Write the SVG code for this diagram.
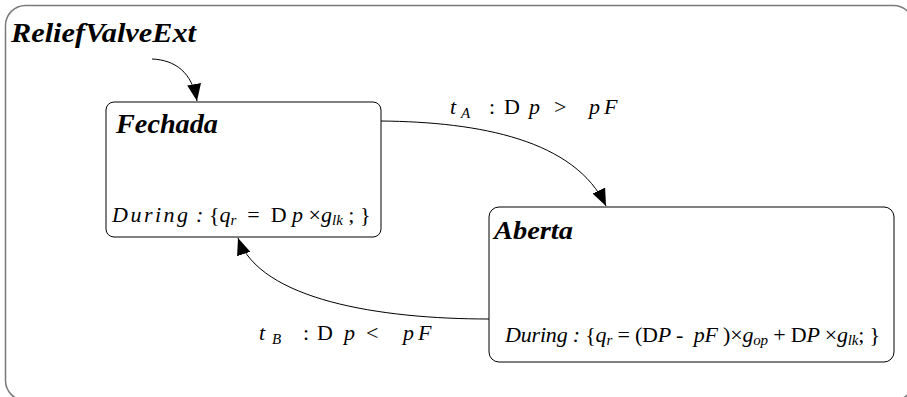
<svg xmlns="http://www.w3.org/2000/svg" width="907" height="397" viewBox="0 0 907 397">
<defs>
<marker id="arr" markerUnits="userSpaceOnUse" markerWidth="20" markerHeight="16" refX="17" refY="7" orient="auto">
<path d="M0,0 L17,7 L0,14 Z" fill="#000"/>
</marker>
<style>
.frame{fill:#fff;stroke:#7a7a7a;stroke-width:1.5}
.state{fill:#fff;stroke:#000;stroke-width:1}
.title{font-family:'Liberation Serif','Times New Roman',Times,serif;font-weight:bold;font-style:italic;fill:#000}
.math{font-family:'Liberation Serif','Times New Roman',Times,serif;font-style:italic;fill:#000;font-size:22px}
.up{font-style:normal}
.sub{font-size:15px}
.conn{fill:none;stroke:#000;stroke-width:1;marker-end:url(#arr)}
</style>
</defs>
<rect x="0" y="0" width="907" height="397" fill="#fff"/>
<g id="frame">
<rect class="frame" x="5.5" y="5.5" width="908" height="395" rx="20"/>
<text class="title" x="11" y="42" font-size="27" textLength="185" lengthAdjust="spacingAndGlyphs">ReliefValveExt</text>
</g>
<g id="fechada">
<rect class="state" x="106" y="102" width="275" height="135" rx="8"/>
<text class="title" x="116" y="133" font-size="27" textLength="102" lengthAdjust="spacingAndGlyphs">Fechada</text>
<text class="math" xml:space="preserve" x="112" y="222"><tspan letter-spacing="2.5">During</tspan> : <tspan class="up">{</tspan>q<tspan class="sub" dy="3">r</tspan><tspan class="up" dy="-3">  =  D </tspan>p <tspan class="up">×</tspan>g<tspan class="sub" dy="3">lk</tspan><tspan class="up" dy="-3"> ; }</tspan></text>
</g>
<g id="aberta">
<rect class="state" x="489" y="207" width="405" height="155" rx="10"/>
<text class="title" x="494" y="239" font-size="26" textLength="79" lengthAdjust="spacingAndGlyphs">Aberta</text>
<text class="math" xml:space="preserve" x="505" y="342" textLength="375" lengthAdjust="spacing">During : <tspan class="up">{</tspan>q<tspan class="sub" dy="3">r</tspan><tspan class="up" dy="-3"> = (D</tspan>P <tspan class="up">-</tspan>  pF <tspan class="up">)×</tspan>g<tspan class="sub" dy="3">op</tspan><tspan class="up" dy="-3"> + D</tspan>P <tspan class="up">×</tspan>g<tspan class="sub" dy="3">lk</tspan><tspan class="up" dy="-3">; }</tspan></text>
</g>
<g id="connectors">
<path class="conn" d="M152,59 C175,60 192,72 197,101"/>
<path class="conn" d="M381,121 C480,122 575,140 606,206"/>
<path class="conn" d="M489,319 C380,319 260,300 238,238"/>
<text class="math" y="114" font-size="21"><tspan x="450">t</tspan><tspan class="sub" x="461" dy="4">A</tspan><tspan class="up" x="489" dy="-4">:</tspan><tspan class="up" x="504">D</tspan><tspan x="529">p</tspan><tspan class="up" x="554">&gt;</tspan><tspan x="589">p</tspan><tspan x="604">F</tspan></text>
<text class="math" y="340" font-size="21"><tspan x="259">t</tspan><tspan class="sub" x="272" dy="4">B</tspan><tspan class="up" x="303" dy="-4">:</tspan><tspan class="up" x="317">D</tspan><tspan x="344">p</tspan><tspan class="up" x="366">&lt;</tspan><tspan x="403">p</tspan><tspan x="418">F</tspan></text>
</g>
</svg>
